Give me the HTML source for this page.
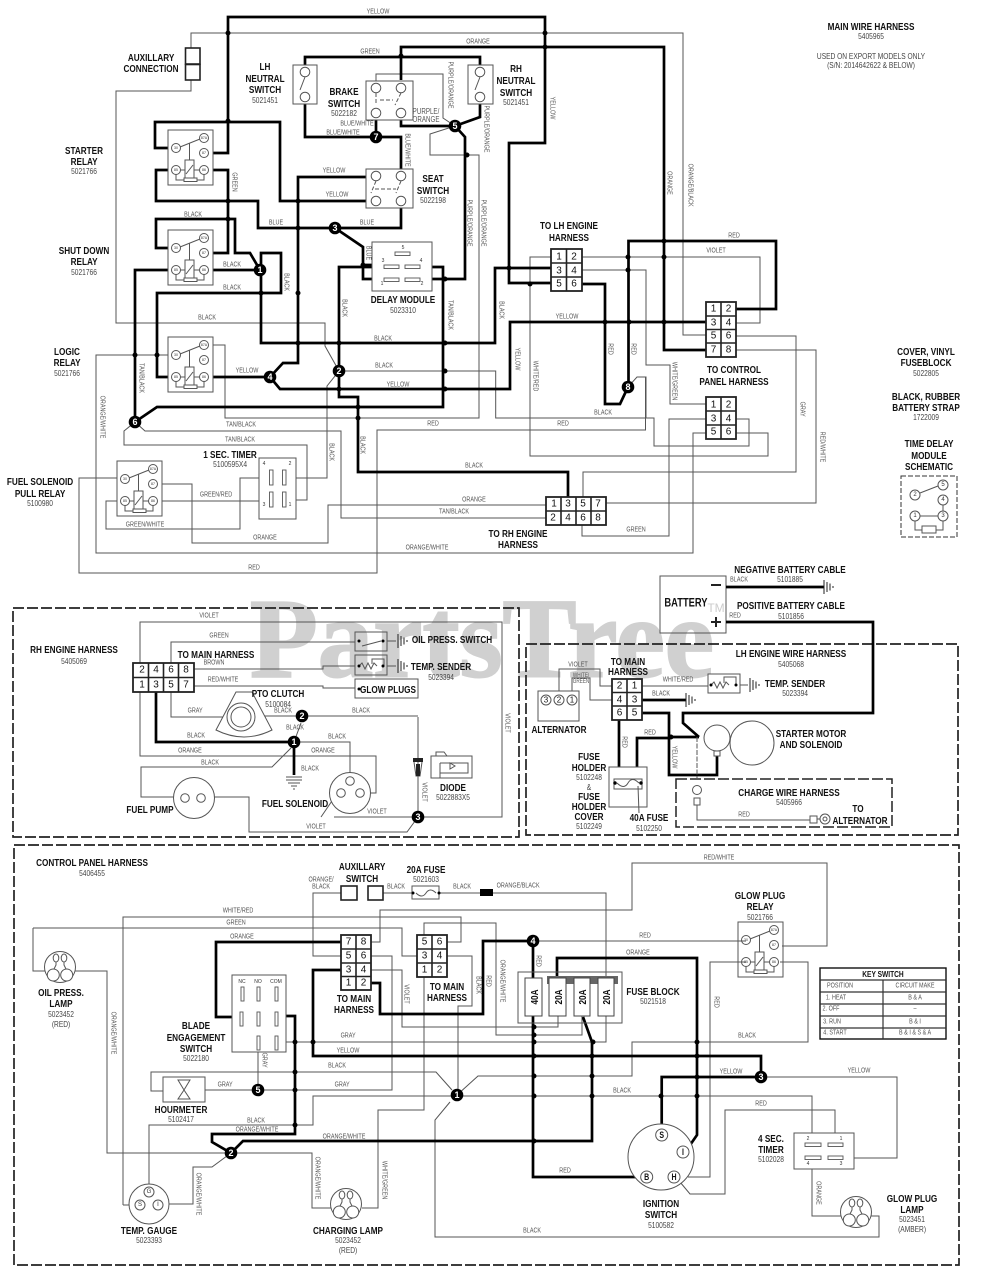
<!DOCTYPE html>
<html><head><meta charset="utf-8"><style>
html,body{margin:0;padding:0;background:#fff}
svg{display:block}
text{font-family:"Liberation Sans",sans-serif;text-anchor:middle;dominant-baseline:central}
.b,.p,.w{transform-box:fill-box;transform-origin:center;transform:scaleX(.78)}
.b{font-weight:bold;font-size:10.5px;fill:#111}
.p{font-size:8.5px;fill:#444}
.w{font-size:7px;fill:#555}
.c{font-size:10px;fill:#111}
.n{font-weight:bold;font-size:9px;fill:#fff}
.r{font-size:3.5px;fill:#333}
.t{fill:none;stroke:#000;stroke-width:2.7;stroke-linejoin:miter}
.h{fill:none;stroke:#555;stroke-width:1}
.o{fill:#fff;stroke:#555;stroke-width:1}
.k{fill:none;stroke:#222;stroke-width:1.6}
.d{fill:none;stroke:#000;stroke-width:5;stroke-linecap:round}
.ds{fill:none;stroke:#222;stroke-width:1.7;stroke-dasharray:11 3}
</style></head><body>
<svg width="984" height="1280" viewBox="0 0 984 1280" xmlns="http://www.w3.org/2000/svg">
<defs>
<g id="relay">
<rect class="o" x="0" y="0" width="45" height="55"/>
<path class="h" d="M12 17L32 9M21.5 13V30M8 44.5V50H36V44.5M12.5 40H17M26 40H31.500"/>
<rect class="o" x="17" y="30" width="9" height="19"/><path class="h" d="M18 44L25 35"/>
<rect class="o" x="16" y="48" width="13" height="3.500"/>
<circle class="o" cx="8" cy="18" r="4.500"/><circle class="o" cx="36" cy="8" r="4.500"/><circle class="o" cx="36" cy="23" r="4.500"/><circle class="o" cx="8" cy="40" r="4.500"/><circle class="o" cx="36" cy="40" r="4.500"/>
<text class="r" x="8" y="18">30</text><text class="r" x="36" y="8">87A</text><text class="r" x="36" y="23">87</text><text class="r" x="8" y="40">85</text><text class="r" x="36" y="40">86</text>
</g>
<g id="gnd"><path fill="none" stroke="#222" stroke-width="1" d="M0 -7V7M3 -5V5M6 -3.500V3.500M9 -1V1"/></g>
<g id="lamp"><circle class="o" r="15.500"/><ellipse class="o" cx="-4" cy="-9" rx="2.800" ry="4"/><ellipse class="o" cx="4" cy="-9" rx="2.800" ry="4"/><path class="h" d="M-4 -5V-2L-6 2M4 -5V-2L6 2"/><circle class="o" cx="-6.700" cy="8" r="6"/><circle class="o" cx="6.700" cy="8" r="6"/></g>
<g id="sw"><circle class="o" cx="10" cy="7" r="4.800"/><circle class="o" cx="35" cy="7" r="4.800"/><circle class="o" cx="10" cy="32" r="4.800"/><circle class="o" cx="35" cy="32" r="4.800"/></g>
</defs>

<!-- watermark -->
<text x="482" y="639" style="font-family:'Liberation Serif',serif;font-weight:bold;font-size:113px;fill:#d0d0d0;stroke:#d0d0d0;stroke-width:2" textLength="464" lengthAdjust="spacingAndGlyphs">PartsTree</text>
<text x="716" y="608" style="font-size:12px;fill:#ccc">TM</text>

<!-- TOP SECTION thin wires -->
<path class="h" d="M191 48V33H683V335H706M191 80V91H116V323H325V346L339 371L327 386V478H284M339 371H495.700V418H646V377H637L628 387"/>
<path class="h" d="M204 345H225V418H479V155H430V134L455 126M376 88V74H443V118L455 126"/>
<path class="h" d="M135 422L145 431H341V518H546M135 422L124 431V445H307V500H284"/>
<path class="h" d="M176 355H96V553H693V433H706"/>
<path class="h" d="M124 478H79V573H377V430H645.500V377"/>
<path class="h" d="M153 484H192V543H328V505H546"/>
<path class="h" d="M153 501H271M124 501H106V529H240V478H271"/>
<path class="h" d="M551 257H530V456H768V433H736"/>
<path class="h" d="M582 270H646V365H670V404H706"/>
<path class="h" d="M582 257H760V323H736"/>
<path class="h" d="M736 336H796V472H583V497"/>
<path class="h" d="M736 350H816V503H606"/>
<path class="h" d="M706 419H669V536H582V525"/>
<path class="h" d="M646 418H654V446H749V419H736"/>

<!-- TOP SECTION thick wires -->
<path class="t" d="M208 153H228V17H545V143H509V283H551"/>
<path class="t" d="M176 148H155V122H280V201H366"/>
<path class="t" d="M176 170H156V201H258V228H401V208"/>
<path class="t" d="M204 170H228V253H208"/>
<path class="t" d="M176 248H156V219H235V253H250L260 270"/>
<path class="t" d="M204 270H260M261 270V253H281V293H157V377H176"/>
<path class="t" d="M261 270V343H495V268H551"/>
<path class="t" d="M176 270H135V422L157 407H443V267H420"/>
<path class="t" d="M204 377H270L283 363H298V177H366M270 377L280 389H510V322H706"/>
<path class="t" d="M383 267H339V397H358V472H568V497"/>
<path class="t" d="M335 228L363 247V279H384M363 265H383"/>
<path class="t" d="M422 279H465V137L455 126L401 126V120M455 126L480 117V104"/>
<path class="t" d="M305 65V57H480V65M401 80V47H664V350H706"/>
<path class="t" d="M305 104V137H401V169M376 137V120"/>
<path class="t" d="M736 309H776V241H628.500V387"/>
<path class="t" d="M582 284H605V404H620L628 387"/>

<path class="d" d="M228 33h0M228 121h0M228 201h0M228 219h0M298 201h0M298 228h0M401 56h0M363 265h0M445 279h0M467 155h0M261 293h0M298 293h0M298 343h0M339 343h0M445 343h0M339 389h0M445 389h0M445 371h0M358 407h0M358 418h0M135 355h0M157 355h0M545 33h0M545 47h0M509 268h0M530 284h0M664 241h0M664 257h0M628 257h0M628 270h0M605 322h0M629 322h0M664 322h0"/>

<!-- components top -->
<rect class="k" x="185.500" y="48" width="14.500" height="16" fill="#fff"/><rect class="k" x="185.500" y="64.500" width="14.500" height="15.500"/>
<use href="#relay" x="168" y="130"/><use href="#relay" x="168" y="230"/><use href="#relay" x="168" y="337"/><use href="#relay" x="117" y="461"/><use href="#relay" x="738" y="922"/>

<rect class="o" x="293" y="65" width="24" height="39"/><circle class="o" cx="305" cy="72" r="4.800"/><circle class="o" cx="305" cy="97" r="4.800"/><path class="h" d="M305 77L300 90"/>
<rect class="o" x="468" y="65" width="25" height="39"/><circle class="o" cx="480" cy="72" r="4.800"/><circle class="o" cx="480" cy="97" r="4.800"/><path class="h" d="M480 77L475 90"/>

<rect class="o" x="366" y="81" width="47" height="39"/><use href="#sw" x="366" y="81"/><path class="h" d="M376 93V105M401 93L395 105M380 100H393" stroke-dasharray="4 2"/>
<rect class="o" x="366" y="169" width="47" height="39"/><use href="#sw" x="366" y="169"/><path class="h" d="M376 181L371 193M401 181L396 193M375 189H396" stroke-dasharray="4 2"/>

<rect class="o" x="372" y="242" width="60" height="49"/>
<g fill="#fff" stroke="#555" stroke-width=".9"><rect x="395" y="252" width="15" height="3.500"/><rect x="384" y="265" width="15" height="3.500"/><rect x="405" y="265" width="15" height="3.500"/><rect x="384" y="278" width="15" height="3.500"/><rect x="405" y="278" width="15" height="3.500"/></g>
<text class="r" x="403" y="248" style="font-size:5px">5</text><text class="r" x="383" y="261" style="font-size:5px">3</text><text class="r" x="421" y="261" style="font-size:5px">4</text><text class="r" x="382" y="284" style="font-size:5px">1</text><text class="r" x="422" y="284" style="font-size:5px">2</text>

<!-- connectors top -->
<rect x="551" y="249" width="31" height="42" fill="#fff" stroke="#222" stroke-width="1.800"/><path class="k" d="M566.500 249V291M551 263H582M551 277H582"/>
<text class="c" x="559" y="257">1</text><text class="c" x="574" y="257">2</text><text class="c" x="559" y="271">3</text><text class="c" x="574" y="271">4</text><text class="c" x="559" y="284">5</text><text class="c" x="574" y="284">6</text>

<rect x="706" y="302" width="30" height="55" fill="#fff" stroke="#222" stroke-width="1.800"/><path class="k" d="M721 302V357M706 316H736M706 329.500H736M706 343H736"/>
<text class="c" x="713.500" y="309">1</text><text class="c" x="728.500" y="309">2</text><text class="c" x="713.500" y="323">3</text><text class="c" x="728.500" y="323">4</text><text class="c" x="713.500" y="336">5</text><text class="c" x="728.500" y="336">6</text><text class="c" x="713.500" y="350">7</text><text class="c" x="728.500" y="350">8</text>

<rect x="706" y="397" width="30" height="42" fill="#fff" stroke="#222" stroke-width="1.800"/><path class="k" d="M721 397V439M706 411H736M706 425H736"/>
<text class="c" x="713.500" y="405">1</text><text class="c" x="728.500" y="405">2</text><text class="c" x="713.500" y="419">3</text><text class="c" x="728.500" y="419">4</text><text class="c" x="713.500" y="432">5</text><text class="c" x="728.500" y="432">6</text>

<rect x="546" y="497" width="60" height="28" fill="#fff" stroke="#222" stroke-width="1.800"/><path class="k" d="M561 497V525M576 497V525M591 497V525M546 511H606"/>
<text class="c" x="554" y="504">1</text><text class="c" x="568" y="504">3</text><text class="c" x="583" y="504">5</text><text class="c" x="598" y="504">7</text><text class="c" x="553" y="518">2</text><text class="c" x="568" y="518">4</text><text class="c" x="583" y="518">6</text><text class="c" x="598" y="518">8</text>

<!-- 1 sec timer -->
<rect class="o" x="259" y="458" width="37" height="61"/>
<g fill="#fff" stroke="#555" stroke-width=".9"><rect x="269.500" y="470" width="3.500" height="15"/><rect x="282.500" y="470" width="3.500" height="15"/><rect x="269.500" y="492" width="3.500" height="15"/><rect x="282.500" y="492" width="3.500" height="15"/></g>
<text class="r" x="264" y="464" style="font-size:5px">4</text><text class="r" x="290" y="464" style="font-size:5px">2</text><text class="r" x="264" y="505" style="font-size:5px">3</text><text class="r" x="290" y="505" style="font-size:5px">1</text>

<!-- time delay schematic -->
<rect x="901" y="476" width="56" height="61" fill="none" stroke="#333" stroke-width="1" stroke-dasharray="5 2"/>
<path class="h" d="M920 493L938 486M943 505V511M920 516H938M915 521V530H943V521"/><rect class="o" x="922" y="526" width="14" height="7"/>
<g class="o"><circle class="o" cx="915" cy="495" r="5"/><circle class="o" cx="943" cy="485" r="5"/><circle class="o" cx="943" cy="500" r="5"/><circle class="o" cx="915" cy="516" r="5"/><circle class="o" cx="943" cy="516" r="5"/></g>
<text class="r" x="915" y="495" style="font-size:6px">2</text><text class="r" x="943" y="485" style="font-size:6px">5</text><text class="r" x="943" y="500" style="font-size:6px">4</text><text class="r" x="915" y="516" style="font-size:6px">1</text><text class="r" x="943" y="516" style="font-size:6px">3</text>

<!-- top nodes -->
<g fill="#000"><circle cx="260" cy="270" r="6.300"/><circle cx="339" cy="371" r="6.300"/><circle cx="335" cy="228" r="6.300"/><circle cx="270" cy="377" r="6.300"/><circle cx="455" cy="126" r="6.300"/><circle cx="135" cy="422" r="6.300"/><circle cx="376" cy="137" r="6.300"/><circle cx="628" cy="387" r="6.300"/></g>
<text class="n" x="260" y="270">1</text><text class="n" x="339" y="371">2</text><text class="n" x="335" y="228">3</text><text class="n" x="270" y="377">4</text><text class="n" x="455" y="126">5</text><text class="n" x="135" y="422">6</text><text class="n" x="376" y="137">7</text><text class="n" x="628" y="387">8</text>

<!-- top labels -->
<text class="b" x="151" y="57">AUXILLARY</text><text class="b" x="151" y="68">CONNECTION</text>
<text class="b" x="265" y="66">LH</text><text class="b" x="265" y="78">NEUTRAL</text><text class="b" x="265" y="89">SWITCH</text><text class="p" x="265" y="100">5021451</text>
<text class="b" x="344" y="91">BRAKE</text><text class="b" x="344" y="103">SWITCH</text><text class="p" x="344" y="113">5022182</text>
<text class="b" x="516" y="68">RH</text><text class="b" x="516" y="80">NEUTRAL</text><text class="b" x="516" y="92">SWITCH</text><text class="p" x="516" y="102">5021451</text>
<text class="b" x="84" y="150">STARTER</text><text class="b" x="84" y="161">RELAY</text><text class="p" x="84" y="171">5021766</text>
<text class="b" x="84" y="250">SHUT DOWN</text><text class="b" x="84" y="261">RELAY</text><text class="p" x="84" y="272">5021766</text>
<text class="b" x="433" y="178">SEAT</text><text class="b" x="433" y="190">SWITCH</text><text class="p" x="433" y="200">5022198</text>
<text class="b" x="403" y="299">DELAY MODULE</text><text class="p" x="403" y="310">5023310</text>
<text class="b" x="569" y="225">TO LH ENGINE</text><text class="b" x="569" y="237">HARNESS</text>
<text class="b" x="67" y="351">LOGIC</text><text class="b" x="67" y="362">RELAY</text><text class="p" x="67" y="373">5021766</text>
<text class="b" x="734" y="369">TO CONTROL</text><text class="b" x="734" y="381">PANEL HARNESS</text>
<text class="b" x="230" y="454">1 SEC. TIMER</text><text class="p" x="230" y="464">5100595X4</text>
<text class="b" x="40" y="481">FUEL SOLENOID</text><text class="b" x="40" y="493">PULL RELAY</text><text class="p" x="40" y="503">5100980</text>
<text class="b" x="518" y="533">TO RH ENGINE</text><text class="b" x="518" y="544">HARNESS</text>
<text class="b" x="871" y="26">MAIN WIRE HARNESS</text><text class="p" x="871" y="36">5405965</text><text class="p" x="871" y="56">USED ON EXPORT MODELS ONLY</text><text class="p" x="871" y="65">(S/N: 2014642622 &amp; BELOW)</text>
<text class="b" x="926" y="351">COVER, VINYL</text><text class="b" x="926" y="362">FUSEBLOCK</text><text class="p" x="926" y="373">5022805</text>
<text class="b" x="926" y="396">BLACK, RUBBER</text><text class="b" x="926" y="407">BATTERY STRAP</text><text class="p" x="926" y="417">1722009</text>
<text class="b" x="929" y="443">TIME DELAY</text><text class="b" x="929" y="455">MODULE</text><text class="b" x="929" y="466">SCHEMATIC</text>

<text class="w" x="378" y="12">YELLOW</text><text class="w" x="478" y="42">ORANGE</text><text class="w" x="370" y="52">GREEN</text>
<g transform="rotate(90 450 85)"><text class="w" x="450" y="85">PURPLE/ORANGE</text></g><text class="w" x="426" y="112" style="font-size:8px">PURPLE/</text><text class="w" x="426" y="120" style="font-size:8px">ORANGE</text>
<text class="w" x="357" y="124">BLUE/WHITE</text><text class="w" x="343" y="133">BLUE/WHITE</text><g transform="rotate(90 407 150)"><text class="w" x="407" y="150">BLUE/WHITE</text></g>
<g transform="rotate(90 234 182)"><text class="w" x="234" y="182">GREEN</text></g><text class="w" x="334" y="171">YELLOW</text><text class="w" x="337" y="195">YELLOW</text>
<text class="w" x="193" y="215">BLACK</text><text class="w" x="276" y="223">BLUE</text><text class="w" x="367" y="223">BLUE</text><g transform="rotate(90 368 253)"><text class="w" x="368" y="253">BLUE</text></g>
<text class="w" x="232" y="265">BLACK</text><g transform="rotate(90 286 282)"><text class="w" x="286" y="282">BLACK</text></g><text class="w" x="232" y="288">BLACK</text>
<g transform="rotate(90 552 108)"><text class="w" x="552" y="108">YELLOW</text></g><g transform="rotate(90 669 183)"><text class="w" x="669" y="183">ORANGE</text></g><g transform="rotate(90 690 185)"><text class="w" x="690" y="185">ORANGE/BLACK</text></g>
<text class="w" x="734" y="236">RED</text><text class="w" x="716" y="251">VIOLET</text>
<g transform="rotate(90 469 223)"><text class="w" x="469" y="223">PURPLE/ORANGE</text></g><g transform="rotate(90 483 223)"><text class="w" x="483" y="223">PURPLE/ORANGE</text></g><g transform="rotate(90 486 129)"><text class="w" x="486" y="129">PURPLE/ORANGE</text></g>
<g transform="rotate(90 450 315)"><text class="w" x="450" y="315">TAN/BLACK</text></g><g transform="rotate(90 344 308)"><text class="w" x="344" y="308">BLACK</text></g>
<text class="w" x="207" y="318">BLACK</text><text class="w" x="383" y="339">BLACK</text><text class="w" x="384" y="366">BLACK</text><text class="w" x="398" y="385">YELLOW</text><text class="w" x="247" y="371">YELLOW</text>
<g transform="rotate(90 141 378)"><text class="w" x="141" y="378">TAN/BLACK</text></g><g transform="rotate(90 501 310)"><text class="w" x="501" y="310">BLACK</text></g><text class="w" x="567" y="317">YELLOW</text>
<g transform="rotate(90 610 349)"><text class="w" x="610" y="349">RED</text></g><g transform="rotate(90 633 349)"><text class="w" x="633" y="349">RED</text></g><g transform="rotate(90 517 359)"><text class="w" x="517" y="359">YELLOW</text></g>
<g transform="rotate(90 535 376)"><text class="w" x="535" y="376">WHITE/RED</text></g><g transform="rotate(90 674 381)"><text class="w" x="674" y="381">WHITE/GREEN</text></g>
<text class="w" x="603" y="413">BLACK</text><text class="w" x="563" y="424">RED</text><text class="w" x="433" y="424">RED</text><text class="w" x="241" y="425">TAN/BLACK</text><text class="w" x="240" y="440">TAN/BLACK</text>
<g transform="rotate(90 331 452)"><text class="w" x="331" y="452">BLACK</text></g><g transform="rotate(90 362 445)"><text class="w" x="362" y="445">BLACK</text></g><text class="w" x="474" y="466">BLACK</text>
<g transform="rotate(90 802 409)"><text class="w" x="802" y="409">GRAY</text></g><g transform="rotate(90 822 447)"><text class="w" x="822" y="447">RED/WHITE</text></g><g transform="rotate(90 102 417)"><text class="w" x="102" y="417">ORANGE/WHITE</text></g>
<text class="w" x="216" y="495">GREEN/RED</text><text class="w" x="145" y="525">GREEN/WHITE</text><text class="w" x="265" y="538">ORANGE</text><text class="w" x="474" y="500">ORANGE</text><text class="w" x="454" y="512">TAN/BLACK</text><text class="w" x="427" y="548">ORANGE/WHITE</text><text class="w" x="254" y="568">RED</text><text class="w" x="636" y="530">GREEN</text>

<!-- RH ENGINE HARNESS -->
<rect class="ds" x="13" y="608" width="506" height="229"/>
<path class="h" d="M140 663V622H502V817H334M321 817L334 798M418 817L407 832H249V797H210"/>
<path class="h" d="M418 717V817M302 716H418M302 716H263"/>
<path class="h" d="M301 723L294 742M294 742H350V778M291 748L272 767H141V797H179"/>
<path class="h" d="M140 692V756H376V793H363"/>
<path class="h" d="M171 663V642H355M194 669H323V666H355M194 686H323V688H355M171 692V717H223"/>
<path class="t" d="M156 692V742H294V775"/>
<rect x="133" y="663" width="61" height="29" fill="#fff" stroke="#222" stroke-width="1.800"/><path class="k" d="M148.500 663V692M163.500 663V692M178.500 663V692M133 677.500H194"/>
<text class="c" x="142" y="670">2</text><text class="c" x="156" y="670">4</text><text class="c" x="171" y="670">6</text><text class="c" x="186" y="670">8</text><text class="c" x="142" y="685">1</text><text class="c" x="156" y="685">3</text><text class="c" x="171" y="685">5</text><text class="c" x="186" y="685">7</text>
<rect class="o" style="fill:none" x="355" y="632" width="32" height="19"/><path class="h" d="M362 646L381 641"/><path class="d" style="stroke-width:3" d="M359 641h0M383 641h0"/><path class="h" d="M387 641H396"/><use href="#gnd" x="398" y="641"/>
<rect class="o" style="fill:none" x="355" y="655" width="32" height="20"/><path class="h" d="M359 666l3 -3l3 6l3 -6l3 6l3 -6l3 3M372 664V659H384V666"/><path class="d" style="stroke-width:3" d="M359 666h0M383 666h0"/><path class="h" d="M387 666H396"/><use href="#gnd" x="398" y="666"/>
<rect class="o" x="355" y="679" width="63" height="19"/><path class="d" style="stroke-width:3" d="M359 689h0"/>
<text class="b" x="388" y="689">GLOW PLUGS</text>
<path class="o" d="M216 730L236 692H252L272 730Q244 744 216 730Z"/><circle class="o" cx="241" cy="717" r="14"/><circle class="o" cx="241" cy="717" r="10"/>
<circle class="o" cx="350" cy="793" r="20.500"/><circle class="o" cx="350" cy="781" r="4.300"/><circle class="o" cx="341" cy="793" r="4.300"/><circle class="o" cx="360" cy="793" r="4.300"/>
<circle class="o" cx="194" cy="798" r="20.500"/><circle class="o" cx="185" cy="798" r="4.300"/><circle class="o" cx="201" cy="798" r="4.300"/>
<rect x="413" y="758" width="10" height="4" fill="#222"/><path class="h" d="M414 762L416 776H420L422 762"/><rect x="416" y="764" width="4" height="12" fill="#222"/>
<rect class="o" x="431" y="756" width="41" height="22"/><path class="h" d="M436 756V752H444L447 756M440 763V778M440 763H468V773H440M450 763l5 3l-5 3z"/>
<path class="h" d="M286 780H302M288 783H300M291 786H297M293 789H295M286 777H302"/>
<g fill="#000"><circle cx="294" cy="742" r="6.300"/><circle cx="302" cy="716" r="6.300"/><circle cx="418" cy="817" r="6.300"/></g>
<text class="n" x="294" y="742">1</text><text class="n" x="302" y="716">2</text><text class="n" x="418" y="817">3</text>
<text class="b" x="74" y="649">RH ENGINE HARNESS</text><text class="p" x="74" y="661">5405069</text>
<text class="b" x="216" y="654">TO MAIN HARNESS</text><text class="b" x="278" y="693">PTO CLUTCH</text><text class="p" x="278" y="704">5100084</text>
<text class="b" x="452" y="639">OIL PRESS. SWITCH</text><text class="b" x="441" y="666">TEMP. SENDER</text><text class="p" x="441" y="677">5023394</text>
<text class="b" x="150" y="809">FUEL PUMP</text><text class="b" x="295" y="803">FUEL SOLENOID</text>
<text class="b" x="453" y="787">DIODE</text><text class="p" x="453" y="797">5022883X5</text>
<text class="w" x="209" y="616">VIOLET</text><text class="w" x="219" y="636">GREEN</text><text class="w" x="214" y="663">BROWN</text><text class="w" x="223" y="680">RED/WHITE</text><text class="w" x="195" y="711">GRAY</text><text class="w" x="283" y="711">BLACK</text><text class="w" x="361" y="711">BLACK</text><text class="w" x="295" y="728">BLACK</text><text class="w" x="196" y="736">BLACK</text><text class="w" x="337" y="737">BLACK</text><text class="w" x="190" y="751">ORANGE</text><text class="w" x="323" y="751">ORANGE</text><text class="w" x="210" y="763">BLACK</text><text class="w" x="310" y="769">BLACK</text><g transform="rotate(90 507 723)"><text class="w" x="507" y="723">VIOLET</text></g><g transform="rotate(90 424 792)"><text class="w" x="424" y="792">VIOLET</text></g><text class="w" x="377" y="812">VIOLET</text><text class="w" x="316" y="827">VIOLET</text>

<!-- LH ENGINE HARNESS & BATTERY -->
<rect class="ds" x="526" y="644" width="432" height="191"/>
<rect class="o" style="fill:none" x="660" y="576" width="66" height="57"/>
<path class="t" d="M726 587H824M726 622H873V713H683V723L699 737"/>
<path class="k" style="stroke-width:2" d="M711 585H721M711 622H721M716 617V627"/>
<use href="#gnd" x="824" y="587"/>
<text class="b" x="686" y="603" style="font-size:12px">BATTERY</text>
<text class="b" x="790" y="569">NEGATIVE BATTERY CABLE</text><text class="p" x="790" y="579">5101885</text><text class="w" x="739" y="580">BLACK</text>
<text class="b" x="791" y="605">POSITIVE BATTERY CABLE</text><text class="p" x="791" y="616">5101856</text><text class="w" x="735" y="616">RED</text>
<path class="h" d="M612 686H600V669H559V695M612 700H590V678H572V695"/>
<rect class="o" x="538" y="691" width="41" height="30"/>
<circle class="o" cx="546" cy="700" r="5"/><circle class="o" cx="559" cy="700" r="5"/><circle class="o" cx="572" cy="700" r="5"/>
<text class="c" x="546" y="700" style="font-size:8px">3</text><text class="c" x="559" y="700" style="font-size:8px">2</text><text class="c" x="572" y="700" style="font-size:8px">1</text>
<text class="b" x="559" y="729">ALTERNATOR</text>
<path class="h" d="M642 686H708"/><rect class="o" x="708" y="674" width="32" height="19"/><path class="h" d="M711 685l3 -3l3 6l3 -6l3 6l3 -6l3 3M724 683V677H736V685M740 685H748"/><path class="d" style="stroke-width:3" d="M711 685h0M736 685h0"/><use href="#gnd" x="750" y="685"/>
<path class="t" d="M642 700H686M642 713H669V775H717V755M669 737H699M637 767V738H669M619 720V767"/>
<path class="d" d="M671 737h0"/><use href="#gnd" x="686" y="700"/>
<rect x="612" y="679" width="30" height="41" fill="#fff" stroke="#222" stroke-width="1.800"/><path class="k" d="M627 679V720M612 692.500H642M612 706H642"/>
<text class="c" x="619.500" y="686">2</text><text class="c" x="634.500" y="686">1</text><text class="c" x="619.500" y="700">4</text><text class="c" x="634.500" y="700">3</text><text class="c" x="619.500" y="713">6</text><text class="c" x="634.500" y="713">5</text>
<circle class="o" cx="717" cy="738" r="13"/><circle class="o" cx="752" cy="743" r="22"/><rect class="o" x="714" y="751" width="6" height="5"/>
<path class="h" d="M697 737V778" stroke-dasharray="5 1.500"/>
<rect x="676" y="779" width="216" height="48" fill="none" stroke="#222" stroke-width="1.500" stroke-dasharray="11 3"/>
<path class="h" d="M697 805V820H810"/><circle class="o" cx="697" cy="790" r="4.500"/><rect class="o" x="694" y="798" width="6" height="7"/><rect class="o" x="810" y="816" width="7" height="7"/><circle class="o" cx="825" cy="819" r="5"/><circle class="o" cx="825" cy="819" r="2"/><path class="h" d="M817 819H820"/>
<rect class="o" x="609" y="767" width="38" height="40"/><rect class="o" x="614" y="779" width="28" height="10"/><path class="h" d="M617 783Q624 790 628 783T639 783M638 786L639 813"/><path class="d" style="stroke-width:3.500" d="M615 783h0M641 783h0"/>
<text class="b" x="628" y="661">TO MAIN</text><text class="b" x="628" y="671">HARNESS</text>
<text class="b" x="791" y="653">LH ENGINE WIRE HARNESS</text><text class="p" x="791" y="664">5405068</text>
<text class="b" x="795" y="683">TEMP. SENDER</text><text class="p" x="795" y="693">5023394</text>
<text class="b" x="811" y="733">STARTER MOTOR</text><text class="b" x="811" y="744">AND SOLENOID</text>
<text class="b" x="589" y="756">FUSE</text><text class="b" x="589" y="767">HOLDER</text><text class="p" x="589" y="777">5102248</text><text class="p" x="589" y="787">&amp;</text><text class="b" x="589" y="796">FUSE</text><text class="b" x="589" y="806">HOLDER</text><text class="b" x="589" y="816">COVER</text><text class="p" x="589" y="826">5102249</text>
<text class="b" x="649" y="817">40A FUSE</text><text class="p" x="649" y="828">5102250</text>
<text class="b" x="789" y="792">CHARGE WIRE HARNESS</text><text class="p" x="789" y="802">5405966</text><text class="b" x="858" y="808">TO</text><text class="b" x="860" y="820">ALTERNATOR</text>
<text class="w" x="744" y="815">RED</text><text class="w" x="578" y="665">VIOLET</text><text class="w" x="581" y="676" style="font-size:6px">WHITE/</text><text class="w" x="581" y="682" style="font-size:6px">GREEN</text><text class="w" x="661" y="694">BLACK</text><text class="w" x="678" y="680">WHITE/RED</text><g transform="rotate(90 624 742)"><text class="w" x="624" y="742">RED</text></g><text class="w" x="650" y="733">RED</text><g transform="rotate(90 674 757)"><text class="w" x="674" y="757">YELLOW</text></g>

<!-- CONTROL PANEL -->
<rect class="ds" x="14" y="845" width="945" height="420"/>
<path class="h" d="M341 893H313V956H341M383 893H412M439 893H480M493 893H606V1042H593"/>
<path class="h" d="M33 928H402V956H417M33 928V971H45M75 971H107V1153H231"/>
<path class="h" d="M123 1205V917H461V942H447M123 1205H140"/>
<path class="h" d="M371 942H380V910H632V863H827V946H782"/>
<path class="h" d="M371 956H392V1090H205M163 1091H151V1072H436L452 1090"/>
<path class="h" d="M258 1052V1090"/>
<path class="h" d="M371 970H402V1027H558V1016M424 935V923H496V1035H582V1016"/>
<path class="h" d="M424 977V1110H378V1208H362"/>
<path class="h" d="M447 956H472V1006H458V1095"/>
<path class="h" d="M457 1095L478 1076H632V1042H808V962H780"/>
<path class="h" d="M457 1096H812V1133"/>
<path class="h" d="M457 1096H313V1125H149V1187"/>
<path class="h" d="M450 1102L435 1120V1237H879V1216H870M841 1216H812V1163"/>
<path class="h" d="M231 1153L212 1167H193V1204H167M231 1153H312V1208H331"/>
<path class="h" d="M276 1042H593M533 941H746"/>
<path class="h" d="M782 962H808M746 962H710V1177H688M680 1182L690 1194H725V1110H835V1133M761 1077H897V1158H843"/>
<path class="t" d="M341 942H216V1017H238M276 1016H295V1134H212V1142L231 1153L243 1141H592V1042L583 1017"/>
<path class="t" d="M341 970H313V1056H761V1077H661.700V1129"/>
<path class="t" d="M371 983H380V1014H483V941H533V978M533 1016V1177H641M557 978V958H697V1135L688 1148"/>
<path class="d" d="M295 1042h0M313 1042h0M295 1072h0M295 1090h0M295 1125h0M534 1027h0M534 1035h0M534 1042h0M534 1056h0M534 1076h0M534 1096h0M534 1141h0M593 1042h0M592 1056h0M592 1076h0M592 1096h0M697 1056h0M697 1077h0M697 1096h0M661 1096h0M697 1042h0"/>

<rect class="k" x="341" y="886" width="16" height="14" /><rect class="k" x="368" y="886" width="15" height="14"/>
<rect class="o" x="412" y="886" width="27" height="13"/><path class="h" d="M416 893Q422 899 426 893T436 893"/><path class="d" style="stroke-width:3" d="M413 893h0M439 893h0"/>
<rect x="480" y="889" width="13" height="7" fill="#000"/>
<circle class="o" cx="149" cy="1204" r="20"/><circle class="o" cx="149" cy="1192" r="5"/><circle class="o" cx="140" cy="1205" r="5"/><circle class="o" cx="158" cy="1205" r="5"/><text class="r" x="149" y="1192" style="font-size:6px">G</text><text class="r" x="140" y="1205" style="font-size:6px">S</text><text class="r" x="158" y="1205" style="font-size:6px">I</text>
<use href="#lamp" x="60" y="967"/><use href="#lamp" x="346" y="1204"/><use href="#lamp" x="856" y="1212"/>

<rect class="o" x="232" y="975" width="54" height="77"/>
<g fill="#fff" stroke="#555" stroke-width=".9"><rect x="241" y="987" width="3" height="14"/><rect x="257" y="987" width="3" height="14"/><rect x="275" y="987" width="3" height="14"/><rect x="240" y="1012" width="3" height="14"/><rect x="257" y="1012" width="3" height="14"/><rect x="275" y="1012" width="3" height="14"/><rect x="257" y="1036" width="3" height="14"/><rect x="275" y="1036" width="3" height="14"/></g>
<text class="r" x="242" y="982" style="font-size:5px">NC</text><text class="r" x="258" y="982" style="font-size:5px">NO</text><text class="r" x="276" y="982" style="font-size:5px">COM</text>

<rect x="341" y="935" width="30" height="55" fill="#fff" stroke="#222" stroke-width="1.800"/><path class="k" d="M356 935V990M341 949H371M341 963H371M341 976.500H371"/>
<text class="c" x="348.500" y="942">7</text><text class="c" x="363.500" y="942">8</text><text class="c" x="348.500" y="956">5</text><text class="c" x="363.500" y="956">6</text><text class="c" x="348.500" y="970">3</text><text class="c" x="363.500" y="970">4</text><text class="c" x="348.500" y="983">1</text><text class="c" x="363.500" y="983">2</text>
<rect x="417" y="935" width="30" height="42" fill="#fff" stroke="#222" stroke-width="1.800"/><path class="k" d="M432 935V977M417 949H447M417 963H447"/>
<text class="c" x="424.500" y="942">5</text><text class="c" x="439.500" y="942">6</text><text class="c" x="424.500" y="956">3</text><text class="c" x="439.500" y="956">4</text><text class="c" x="424.500" y="970">1</text><text class="c" x="439.500" y="970">2</text>

<rect class="o" x="518" y="972" width="104" height="51" style="fill:none"/><rect x="547" y="976" width="71" height="8" fill="#666"/>
<g fill="#fff" stroke="#444" stroke-width="1"><rect x="525" y="978" width="17" height="38"/><rect x="549" y="978" width="17" height="38"/><rect x="574" y="978" width="16" height="38"/><rect x="598" y="978" width="16" height="38"/></g>
<g transform="rotate(-90 534 997)"><text class="b" x="534" y="997">40A</text></g><g transform="rotate(-90 558 997)"><text class="b" x="558" y="997">20A</text></g><g transform="rotate(-90 582 997)"><text class="b" x="582" y="997">20A</text></g><g transform="rotate(-90 606 997)"><text class="b" x="606" y="997">20A</text></g>
<path class="h" d="M606 1023V1042"/>

<rect class="o" x="163" y="1077" width="42" height="25"/><path class="h" d="M178 1080H190L184 1090L190 1099H178L184 1090Z"/>
<circle class="o" cx="661" cy="1157" r="33"/><circle class="o" cx="661.700" cy="1135" r="6"/><circle class="o" cx="683" cy="1152" r="6"/><circle class="o" cx="646.700" cy="1177" r="6"/><circle class="o" cx="674" cy="1177" r="6"/>
<text class="b" x="661.700" y="1135" style="font-size:9px">S</text><text class="b" x="683" y="1152" style="font-size:9px">I</text><text class="b" x="646.700" y="1177" style="font-size:9px">B</text><text class="b" x="674" y="1177" style="font-size:9px">H</text>

<rect class="o" x="794" y="1133" width="60" height="36"/>
<g fill="#fff" stroke="#555" stroke-width=".9"><rect x="805" y="1143" width="16" height="3.500"/><rect x="828" y="1143" width="15" height="3.500"/><rect x="805" y="1156" width="16" height="3.500"/><rect x="828" y="1156" width="15" height="3.500"/></g>
<text class="r" x="808" y="1139" style="font-size:5px">2</text><text class="r" x="841" y="1139" style="font-size:5px">1</text><text class="r" x="808" y="1164" style="font-size:5px">4</text><text class="r" x="841" y="1164" style="font-size:5px">3</text>

<rect x="820" y="968" width="126" height="71" fill="#fff" stroke="#111" stroke-width="1.400"/><path d="M820 980H946M820 992H946M820 1004H946M820 1016H946M820 1028H946M883 980V1039" stroke="#333" stroke-width="1.200"/>
<text class="b" x="883" y="974" style="font-size:8.500px">KEY SWITCH</text><text class="w" x="840" y="986">POSITION</text><text class="w" x="915" y="986">CIRCUIT MAKE</text>
<text class="w" x="836" y="998">1. HEAT</text><text class="w" x="915" y="998">B &amp; A</text><text class="w" x="831" y="1009">2. OFF</text><text class="w" x="915" y="1009">–</text><text class="w" x="832" y="1022">3. RUN</text><text class="w" x="915" y="1022">B &amp; I</text><text class="w" x="835" y="1033">4. START</text><text class="w" x="915" y="1033">B &amp; I &amp; S &amp; A</text>

<g fill="#000"><circle cx="457" cy="1095" r="6.300"/><circle cx="231" cy="1153" r="6.300"/><circle cx="761" cy="1077" r="6.300"/><circle cx="533" cy="941" r="6.300"/><circle cx="258" cy="1090" r="6.300"/></g>
<text class="n" x="457" y="1095">1</text><text class="n" x="231" y="1153">2</text><text class="n" x="761" y="1077">3</text><text class="n" x="533" y="941">4</text><text class="n" x="258" y="1090">5</text>

<text class="b" x="92" y="862">CONTROL PANEL HARNESS</text><text class="p" x="92" y="873">5406455</text>
<text class="b" x="362" y="866">AUXILLARY</text><text class="b" x="362" y="878">SWITCH</text><text class="b" x="426" y="869">20A FUSE</text><text class="p" x="426" y="879">5021603</text>
<text class="b" x="760" y="895">GLOW PLUG</text><text class="b" x="760" y="906">RELAY</text><text class="p" x="760" y="917">5021766</text>
<text class="b" x="354" y="998">TO MAIN</text><text class="b" x="354" y="1009">HARNESS</text><text class="b" x="447" y="986">TO MAIN</text><text class="b" x="447" y="997">HARNESS</text>
<text class="b" x="653" y="991">FUSE BLOCK</text><text class="p" x="653" y="1001">5021518</text>
<text class="b" x="61" y="992">OIL PRESS.</text><text class="b" x="61" y="1003">LAMP</text><text class="p" x="61" y="1014">5023452</text><text class="p" x="61" y="1024">(RED)</text>
<text class="b" x="196" y="1025">BLADE</text><text class="b" x="196" y="1037">ENGAGEMENT</text><text class="b" x="196" y="1048">SWITCH</text><text class="p" x="196" y="1058">5022180</text>
<text class="b" x="181" y="1109">HOURMETER</text><text class="p" x="181" y="1119">5102417</text>
<text class="b" x="149" y="1230">TEMP. GAUGE</text><text class="p" x="149" y="1240">5023393</text>
<text class="b" x="348" y="1230">CHARGING LAMP</text><text class="p" x="348" y="1240">5023452</text><text class="p" x="348" y="1250">(RED)</text>
<text class="b" x="661" y="1203">IGNITION</text><text class="b" x="661" y="1214">SWITCH</text><text class="p" x="661" y="1225">5100582</text>
<text class="b" x="771" y="1138">4 SEC.</text><text class="b" x="771" y="1149">TIMER</text><text class="p" x="771" y="1159">5102028</text>
<text class="b" x="912" y="1198">GLOW PLUG</text><text class="b" x="912" y="1209">LAMP</text><text class="p" x="912" y="1219">5023451</text><text class="p" x="912" y="1229">(AMBER)</text>

<text class="w" x="321" y="880">ORANGE/</text><text class="w" x="321" y="887">BLACK</text><text class="w" x="396" y="887">BLACK</text><text class="w" x="462" y="887">BLACK</text><text class="w" x="518" y="886">ORANGE/BLACK</text>
<text class="w" x="238" y="911">WHITE/RED</text><text class="w" x="236" y="923">GREEN</text><text class="w" x="242" y="937">ORANGE</text>
<g transform="rotate(90 406 994)"><text class="w" x="406" y="994">VIOLET</text></g><g transform="rotate(90 478 985)"><text class="w" x="478" y="985">BLACK</text></g><g transform="rotate(90 488 981)"><text class="w" x="488" y="981">RED</text></g><g transform="rotate(90 502 981)"><text class="w" x="502" y="981">ORANGE/WHITE</text></g><g transform="rotate(90 538 961)"><text class="w" x="538" y="961">RED</text></g>
<text class="w" x="638" y="953">ORANGE</text><text class="w" x="645" y="936">RED</text><text class="w" x="719" y="858">RED/WHITE</text><g transform="rotate(90 716 1002)"><text class="w" x="716" y="1002">RED</text></g><text class="w" x="747" y="1036">BLACK</text>
<g transform="rotate(90 264 1060)"><text class="w" x="264" y="1060">GRAY</text></g><g transform="rotate(90 113 1033)"><text class="w" x="113" y="1033">ORANGE/WHITE</text></g>
<text class="w" x="348" y="1036">GRAY</text><text class="w" x="348" y="1051">YELLOW</text><text class="w" x="337" y="1066">BLACK</text><text class="w" x="225" y="1085">GRAY</text><text class="w" x="342" y="1085">GRAY</text>
<text class="w" x="256" y="1121">BLACK</text><text class="w" x="257" y="1130">ORANGE/WHITE</text><text class="w" x="344" y="1137">ORANGE/WHITE</text><text class="w" x="622" y="1091">BLACK</text><text class="w" x="731" y="1072">YELLOW</text><text class="w" x="859" y="1071">YELLOW</text><text class="w" x="761" y="1104">RED</text>
<g transform="rotate(90 198 1194)"><text class="w" x="198" y="1194">ORANGE/WHITE</text></g><g transform="rotate(90 317 1178)"><text class="w" x="317" y="1178">ORANGE/WHITE</text></g><g transform="rotate(90 384 1180)"><text class="w" x="384" y="1180">WHITE/GREEN</text></g><g transform="rotate(90 818 1193)"><text class="w" x="818" y="1193">ORANGE</text></g>
<text class="w" x="565" y="1171">RED</text><text class="w" x="532" y="1231">BLACK</text>
</svg>
</body></html>
